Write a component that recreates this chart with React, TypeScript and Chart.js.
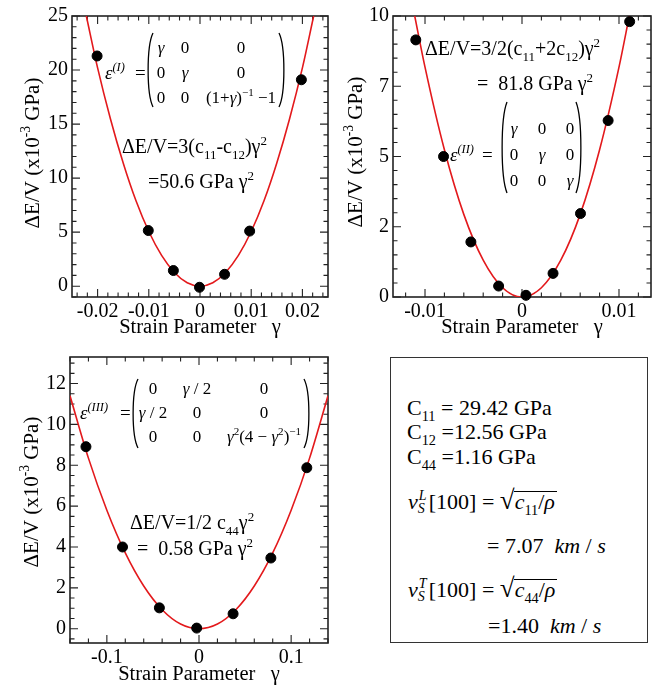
import React, { useEffect, useRef } from 'react';
import { Chart, registerables } from 'chart.js';

Chart.register(...registerables);

const SERIF = '"Liberation Serif", "Times New Roman", Times, serif';
const RED = '#e3191c';
const INK = '#000000';
const FRAME = '#222222';

// ---------- Panel (I) ----------
const P1_STRAIN = [-0.0201, -0.0101, -0.0052, -0.0001, 0.0048, 0.0097, 0.0198];
const P1_ENERGY = [21.3, 5.15, 1.45, -0.1, 1.1, 5.1, 19.1];
const P1_FIT_STRAIN = [-0.0222, -0.02, -0.0175, -0.015, -0.0125, -0.01, -0.0075, -0.005, -0.0025, 0, 0.0025, 0.005, 0.0075, 0.01, 0.0125, 0.015, 0.0175, 0.02, 0.0222];
const P1_FIT_ENERGY = [25.0, 20.2, 15.5, 11.4, 7.9, 5.06, 2.85, 1.27, 0.32, 0, 0.32, 1.27, 2.85, 5.06, 7.9, 11.4, 15.5, 20.2, 25.0];
const P1_X_TICKS = [-0.02, -0.01, 0, 0.01, 0.02];
const P1_X_LABELS = ['-0.02', '-0.01', '0', '0.01', '0.02'];
const P1_Y_TICKS = [0, 5, 10, 15, 20, 25];
const P1_Y_LABELS = ['0', '5', '10', '15', '20', '25'];

// ---------- Panel (II) ----------
const P2_STRAIN = [-0.01095, -0.00809, -0.00527, -0.00241, 0.00041, 0.0032, 0.00603, 0.00888, 0.0111];
const P2_ENERGY = [9.15, 5.0, 1.96, 0.39, 0.06, 0.84, 2.97, 6.28, 9.8];
const P2_FIT_STRAIN = [-0.01106, -0.01, -0.008, -0.006, -0.004, -0.002, 0, 0.002, 0.004, 0.006, 0.008, 0.01, 0.01106];
const P2_FIT_ENERGY = [10.0, 8.18, 5.24, 2.94, 1.31, 0.33, 0, 0.33, 1.31, 2.94, 5.24, 8.18, 10.0];
const P2_X_TICKS = [-0.01, 0, 0.01];
const P2_X_LABELS = ['-0.01', '0', '0.01'];
const P2_Y_TICKS = [0, 2.5, 5, 7.5, 10];
const P2_Y_LABELS = ['0', '2', '5', '7', '10'];

// ---------- Panel (III) ----------
const P3_STRAIN = [-0.1227, -0.083, -0.043, -0.0025, 0.037, 0.078, 0.117];
const P3_ENERGY = [8.91, 4.0, 1.02, 0.03, 0.73, 3.46, 7.88];
const P3_FIT_STRAIN = [-0.14, -0.12, -0.1, -0.08, -0.06, -0.04, -0.02, 0, 0.02, 0.04, 0.06, 0.08, 0.1, 0.12, 0.14];
const P3_FIT_ENERGY = [11.4, 8.35, 5.8, 3.71, 2.09, 0.93, 0.23, 0, 0.23, 0.93, 2.09, 3.71, 5.8, 8.35, 11.4];
const P3_X_TICKS = [-0.1, 0, 0.1];
const P3_X_LABELS = ['-0.1', '0', '0.1'];
const P3_Y_TICKS = [0, 2, 4, 6, 8, 10, 12];
const P3_Y_LABELS = ['0', '2', '4', '6', '8', '10', '12'];

const X_TITLE = 'Strain Parameter   γ';

// ---------- rich text helpers ----------
type Seg = { t: string; it?: boolean; pos?: 'sub' | 'sup' };
const n = (t: string): Seg => ({ t });
const it = (t: string): Seg => ({ t, it: true });
const sub = (t: string, i = false): Seg => ({ t, pos: 'sub', it: i });
const sup = (t: string, i = false): Seg => ({ t, pos: 'sup', it: i });

function setFont(ctx: CanvasRenderingContext2D, s: Seg, size: number) {
  const sz = s.pos ? size * 0.65 : size;
  ctx.font = `${s.it ? 'italic ' : ''}${sz}px ${SERIF}`;
}
function richWidth(ctx: CanvasRenderingContext2D, segs: Seg[], size: number) {
  let w = 0;
  for (const s of segs) {
    setFont(ctx, s, size);
    w += ctx.measureText(s.t).width;
  }
  return w;
}
function drawRich(ctx: CanvasRenderingContext2D, segs: Seg[], x: number, y: number, size: number, align: 'left' | 'center' = 'left') {
  ctx.save();
  ctx.fillStyle = INK;
  ctx.textBaseline = 'alphabetic';
  ctx.textAlign = 'left';
  let cx = align === 'center' ? x - richWidth(ctx, segs, size) / 2 : x;
  for (const s of segs) {
    setFont(ctx, s, size);
    const dy = s.pos === 'sub' ? size * 0.28 : s.pos === 'sup' ? -size * 0.42 : 0;
    ctx.fillText(s.t, cx, y + dy);
    cx += ctx.measureText(s.t).width;
  }
  ctx.restore();
}
function paren(ctx: CanvasRenderingContext2D, x: number, top: number, bot: number, dir: number) {
  const h = bot - top;
  ctx.save();
  ctx.strokeStyle = INK;
  ctx.lineWidth = 1.3;
  ctx.beginPath();
  ctx.moveTo(x + dir * 5, top);
  ctx.bezierCurveTo(x - dir * 1.5, top + h * 0.18, x - dir * 1.5, bot - h * 0.18, x + dir * 5, bot);
  ctx.stroke();
  ctx.restore();
}
interface MatrixSpec {
  label: Seg[]; labelX: number; eqX: number; midY: number;
  lp: number; rp: number; top: number; bot: number;
  cols: number[]; rows: number[]; cells: Seg[][][]; size: number;
}
function drawMatrix(ctx: CanvasRenderingContext2D, m: MatrixSpec) {
  drawRich(ctx, m.label, m.labelX, m.midY, m.size + 2);
  drawRich(ctx, [n('=')], m.eqX, m.midY, m.size + 2);
  m.cells.forEach((row, r) => row.forEach((cell, c) => drawRich(ctx, cell, m.cols[c], m.rows[r], m.size, 'center')));
  paren(ctx, m.lp, m.top, m.bot, 1);
  paren(ctx, m.rp, m.top, m.bot, -1);
}

const Y_TITLE: Seg[] = [n('ΔE/V (x10'), sup('-3'), n(' GPa)')];

interface PanelCfg {
  strain: number[]; energy: number[]; fitStrain: number[]; fitEnergy: number[];
  xMin: number; xMax: number; yMin: number; yMax: number;
  xTicks: number[]; xLabels: string[]; yTicks: number[]; yLabels: string[];
  xMinor: number; yMinor: number;
  padTop: number; padRight: number; yAxisW: number; xAxisH: number; titlePad: number;
  yTitleX: number; yTitleY: number;
  draw: (ctx: CanvasRenderingContext2D) => void;
}

function minorValues(min: number, max: number, step: number, majors: number[]) {
  const out: number[] = [];
  const k0 = Math.ceil(min / step - 1e-9);
  const k1 = Math.floor(max / step + 1e-9);
  for (let k = k0; k <= k1; k++) {
    const v = k * step;
    if (!majors.some((m) => Math.abs(m - v) < step * 0.01)) out.push(v);
  }
  return out;
}

function makePanel(canvas: HTMLCanvasElement, P: PanelCfg) {
  const framePlugin = {
    id: 'frameTicks',
    beforeDatasetsDraw(chart: any) {
      const { ctx, chartArea: a, scales } = chart;
      const xs = scales.x, ys = scales.y;
      ctx.save();
      ctx.strokeStyle = FRAME;
      ctx.lineWidth = 1.1;
      const tick = (vals: number[], len: number) => {
        ctx.beginPath();
        for (const v of vals) {
          const px = xs.getPixelForValue(v);
          ctx.moveTo(px, a.bottom); ctx.lineTo(px, a.bottom - len);
          ctx.moveTo(px, a.top); ctx.lineTo(px, a.top + len);
        }
        ctx.stroke();
      };
      const ytick = (vals: number[], len: number) => {
        ctx.beginPath();
        for (const v of vals) {
          const py = ys.getPixelForValue(v);
          ctx.moveTo(a.left, py); ctx.lineTo(a.left + len, py);
          ctx.moveTo(a.right, py); ctx.lineTo(a.right - len, py);
        }
        ctx.stroke();
      };
      tick(P.xTicks, 8);
      tick(minorValues(P.xMin, P.xMax, P.xMinor, P.xTicks), 4.5);
      ytick(P.yTicks, 8);
      ytick(minorValues(P.yMin, P.yMax, P.yMinor, P.yTicks), 4.5);
      ctx.lineWidth = 1.6;
      ctx.strokeRect(a.left, a.top, a.right - a.left, a.bottom - a.top);
      ctx.restore();
    },
  };
  const notesPlugin = {
    id: 'notes',
    afterDraw(chart: any) {
      const ctx = chart.ctx as CanvasRenderingContext2D;
      ctx.save();
      ctx.translate(P.yTitleX, P.yTitleY);
      ctx.rotate(-Math.PI / 2);
      drawRich(ctx, Y_TITLE, 0, 0, 21, 'center');
      ctx.restore();
      P.draw(ctx);
    },
  };
  const tickFont = { family: SERIF, size: 20 };
  return new Chart(canvas, {
    type: 'scatter',
    data: {
      datasets: [
        {
          type: 'line',
          label: 'fit',
          data: P.fitStrain.map((x, i) => ({ x, y: P.fitEnergy[i] })),
          borderColor: RED,
          borderWidth: 1.6,
          pointRadius: 0,
          cubicInterpolationMode: 'monotone',
          fill: false,
          order: 2,
        } as any,
        {
          type: 'scatter',
          label: 'data',
          data: P.strain.map((x, i) => ({ x, y: P.energy[i] })),
          backgroundColor: INK,
          borderColor: INK,
          pointRadius: 5,
          pointHoverRadius: 5,
          order: 1,
          clip: 8,
        } as any,
      ],
    },
    options: {
      responsive: false,
      animation: false,
      events: [],
      layout: { padding: { top: P.padTop, right: P.padRight, left: 0, bottom: 0 } },
      plugins: { legend: { display: false }, tooltip: { enabled: false }, title: { display: false } },
      scales: {
        x: {
          type: 'linear',
          position: 'bottom',
          min: P.xMin,
          max: P.xMax,
          afterBuildTicks: (s: any) => { s.ticks = P.xTicks.map((v) => ({ value: v })); },
          afterFit: (s: any) => { s.height = P.xAxisH; },
          grid: { display: false, drawTicks: false },
          border: { display: false },
          ticks: { color: INK, font: tickFont, padding: 3, maxRotation: 0, autoSkip: false, callback: (_v: any, i: number) => P.xLabels[i] },
          title: { display: true, text: X_TITLE, color: INK, font: { family: SERIF, size: 20.5 }, padding: { top: 0, bottom: P.titlePad } },
        },
        y: {
          type: 'linear',
          min: P.yMin,
          max: P.yMax,
          afterBuildTicks: (s: any) => { s.ticks = P.yTicks.map((v) => ({ value: v })); },
          afterFit: (s: any) => { s.width = P.yAxisW; },
          grid: { display: false, drawTicks: false },
          border: { display: false },
          ticks: { color: INK, font: tickFont, padding: 4, autoSkip: false, callback: (_v: any, i: number) => P.yLabels[i] },
        },
      },
    } as any,
    plugins: [framePlugin, notesPlugin],
  });
}

const PANEL1: PanelCfg = {
  strain: P1_STRAIN, energy: P1_ENERGY, fitStrain: P1_FIT_STRAIN, fitEnergy: P1_FIT_ENERGY,
  xMin: -0.025, xMax: 0.025, yMin: -1, yMax: 25,
  xTicks: P1_X_TICKS, xLabels: P1_X_LABELS, yTicks: P1_Y_TICKS, yLabels: P1_Y_LABELS,
  xMinor: 0.002, yMinor: 1,
  padTop: 12, padRight: 12, yAxisW: 72, xAxisH: 43, titlePad: 0,
  yTitleX: 39, yTitleY: 153,
  draw: (ctx) => {
    drawMatrix(ctx, {
      label: [it('ε'), sup('(I)', true)], labelX: 105, eqX: 135, midY: 79,
      lp: 148, rp: 284, top: 33, bot: 107,
      cols: [161, 185, 241], rows: [53, 78, 103], size: 17,
      cells: [
        [[it('γ')], [n('0')], [n('0')]],
        [[n('0')], [it('γ')], [n('0')]],
        [[n('0')], [n('0')], [n('(1+'), it('γ'), n(')'), sup('−1'), n(' −1')]],
      ],
    });
    drawRich(ctx, [n('ΔE/V=3(c'), sub('11'), n('-c'), sub('12'), n(')γ'), sup('2')], 122, 153, 20);
    drawRich(ctx, [n('=50.6 GPa γ'), sup('2')], 148, 188, 20);
  },
};

const PANEL2: PanelCfg = {
  strain: P2_STRAIN, energy: P2_ENERGY, fitStrain: P2_FIT_STRAIN, fitEnergy: P2_FIT_ENERGY,
  xMin: -0.0133, xMax: 0.0133, yMin: 0, yMax: 10,
  xTicks: P2_X_TICKS, xLabels: P2_X_LABELS, yTicks: P2_Y_TICKS, yLabels: P2_Y_LABELS,
  xMinor: 0.002, yMinor: 0.5,
  padTop: 12, padRight: 9, yAxisW: 63, xAxisH: 43, titlePad: 0,
  yTitleX: 32, yTitleY: 152,
  draw: (ctx) => {
    drawRich(ctx, [n('ΔE/V=3/2(c'), sub('11'), n('+2c'), sub('12'), n(')γ'), sup('2')], 95, 55, 20);
    drawRich(ctx, [n('=  81.8 GPa γ'), sup('2')], 147, 90, 20);
    drawMatrix(ctx, {
      label: [it('ε'), sup('(II)', true)], labelX: 120, eqX: 152, midY: 161,
      lp: 172, rp: 251, top: 102, bot: 193,
      cols: [184, 212, 240], rows: [134, 160, 186], size: 17,
      cells: [
        [[it('γ')], [n('0')], [n('0')]],
        [[n('0')], [it('γ')], [n('0')]],
        [[n('0')], [n('0')], [it('γ')]],
      ],
    });
  },
};

const PANEL3: PanelCfg = {
  strain: P3_STRAIN, energy: P3_ENERGY, fitStrain: P3_FIT_STRAIN, fitEnergy: P3_FIT_ENERGY,
  xMin: -0.14, xMax: 0.14, yMin: -0.7, yMax: 13.3,
  xTicks: P3_X_TICKS, xLabels: P3_X_LABELS, yTicks: P3_Y_TICKS, yLabels: P3_Y_LABELS,
  xMinor: 0.02, yMinor: 0.5,
  padTop: 17, padRight: 12, yAxisW: 70, xAxisH: 46, titlePad: 2,
  yTitleX: 38, yTitleY: 152,
  draw: (ctx) => {
    drawMatrix(ctx, {
      label: [it('ε'), sup('(III)', true)], labelX: 80, eqX: 120, midY: 79,
      lp: 133, rp: 309, top: 39, bot: 108,
      cols: [153, 197, 264], rows: [54, 78, 102], size: 17,
      cells: [
        [[n('0')], [it('γ'), n(' / 2')], [n('0')]],
        [[it('γ'), n(' / 2')], [n('0')], [n('0')]],
        [[n('0')], [n('0')], [it('γ'), sup('2'), n('(4 − '), it('γ'), sup('2'), n(')'), sup('−1')]],
      ],
    });
    drawRich(ctx, [n('ΔE/V=1/2 c'), sub('44'), n('γ'), sup('2')], 130, 189, 20);
    drawRich(ctx, [n('=  0.58 GPa γ'), sup('2')], 137, 215, 20);
  },
};

// ---------- text box helpers ----------
const BOX_FS = 22;
function Line({ left, baseline, children }: { left: number; baseline: number; children: React.ReactNode }) {
  return (
    <div style={{ position: 'absolute', left, top: baseline - BOX_FS * 0.8375, fontSize: BOX_FS, lineHeight: 1, whiteSpace: 'nowrap', fontFamily: SERIF, color: INK }}>
      {children}
    </div>
  );
}
const Sub = ({ children }: { children: React.ReactNode }) => (
  <span style={{ fontSize: '0.65em', position: 'relative', top: '0.42em' }}>{children}</span>
);
function VS({ sup: s }: { sup: string }) {
  return (
    <span style={{ display: 'inline-block', position: 'relative', width: 11 }}>
      <span style={{ position: 'absolute', left: 1, bottom: 6, fontSize: 14, lineHeight: 1, fontStyle: 'italic' }}>{s}</span>
      <span style={{ position: 'absolute', left: 0, top: -7, fontSize: 14, lineHeight: 1, fontStyle: 'italic' }}>S</span>
    </span>
  );
}
function Root({ idx }: { idx: string }) {
  return (
    <>
      <span style={{ fontSize: 27, fontFamily: SERIF }}>√</span>
      <span style={{ position: 'relative', paddingRight: 2 }}>
        <span style={{ position: 'absolute', left: -1, right: 0, top: 2, borderTop: '1.3px solid #000' }} />
        <i>c</i><Sub>{idx}</Sub>/<i>ρ</i>
      </span>
    </>
  );
}

export default function App() {
  const r1 = useRef<HTMLCanvasElement>(null);
  const r2 = useRef<HTMLCanvasElement>(null);
  const r3 = useRef<HTMLCanvasElement>(null);
  useEffect(() => {
    const charts = [
      makePanel(r1.current!, PANEL1),
      makePanel(r2.current!, PANEL2),
      makePanel(r3.current!, PANEL3),
    ];
    return () => charts.forEach((c) => c.destroy());
  }, []);
  return (
    <div style={{ position: 'fixed', left: 0, top: 0, width: 660, height: 689, background: '#fff', overflow: 'hidden' }}>
      <canvas ref={r1} width={340} height={340} style={{ position: 'absolute', left: 0, top: 0, width: 340, height: 340 }} />
      <canvas ref={r2} width={330} height={340} style={{ position: 'absolute', left: 330, top: 0, width: 330, height: 340 }} />
      <canvas ref={r3} width={340} height={349} style={{ position: 'absolute', left: 0, top: 340, width: 340, height: 349 }} />
      <div style={{ position: 'absolute', left: 390, top: 357, width: 256, height: 284, border: '1.5px solid #333' }} />
      <Line left={407} baseline={415}>C<Sub>11</Sub> = 29.42 GPa</Line>
      <Line left={407} baseline={439}>C<Sub>12</Sub> =12.56 GPa</Line>
      <Line left={407} baseline={464}>C<Sub>44</Sub> =1.16 GPa</Line>
      <Line left={408} baseline={505}><i>v</i><VS sup="L" />[100] = <Root idx="11" /></Line>
      <Line left={487} baseline={553}>= 7.07&nbsp; <i>km</i> / <i>s</i></Line>
      <Line left={408} baseline={593}><i>v</i><VS sup="T" />[100] = <Root idx="44" /></Line>
      <Line left={488} baseline={633}>=1.40&nbsp; <i>km</i> / <i>s</i></Line>
    </div>
  );
}
